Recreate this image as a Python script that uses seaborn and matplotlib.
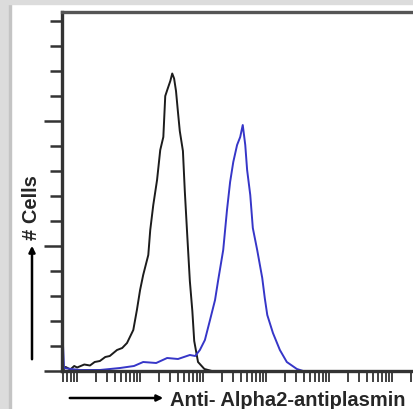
import numpy as np
import pandas as pd
import matplotlib
matplotlib.use("Agg")
import matplotlib.pyplot as plt
import matplotlib.ticker as mticker
import seaborn as sns

# Control (isotype) histogram - fluorescence intensity vs cell count
black_fl = [0.58, 0.66, 0.78, 0.9, 1.0, 1.3, 1.6, 1.9, 2.3, 2.8, 3.3, 4.3, 5.2, 6.2, 7.8, 8.9,
            10.0, 11.2, 13.5, 14.5, 16.2, 18.6, 20.9, 23.4, 25.1, 27.5, 30.2, 32.4, 34.7,
            37.2, 39.8, 42.7, 47.9, 51.3, 56.2, 61.7, 67.6, 72.4, 83.2, 105, 138]
black_cells = [0.0, 1.6, 0.6, 2.0, 1.4, 2.6, 2.2, 3.6, 4.0, 5.6, 6.0, 8.4, 9.2, 11.2, 16.4, 24.4,
               32.4, 38.4, 46.4, 56.4, 66.4, 76.4, 88.4, 93.6, 110, 113, 116, 119, 117,
               112, 104, 96, 88, 72, 54, 36, 24, 12, 3.6, 0.8, 0.0]

# Anti-Alpha2-antiplasmin stained histogram
blue_fl = [0.59, 0.59, 0.62, 0.8, 1.12, 2.3, 4.8, 8.0, 11.2, 18.0, 26.9, 40.0, 61.7, 75.0, 89, 107,
           129, 155, 174, 209, 240, 269, 302, 347, 389, 427, 468, 501, 562, 617, 724,
           871, 955, 1047, 1288, 1660, 2138, 3090, 3890]
blue_cells = [0.0, 13.2, 1.2, 0.8, 0.4, 0.4, 1.2, 2.0, 3.6, 3.2, 5.2, 4.8, 6.4, 6.0, 8.4, 12.4,
              20.4, 28.4, 36.4, 48.4, 64.4, 75.6, 83.6, 90.4, 93.6, 98.4, 90.4, 80.4, 70.4,
              57.2, 48.4, 37.2, 29.2, 22.4, 15.2, 8.4, 3.6, 0.8, 0.0]

x_label = "Anti- Alpha2-antiplasmin"
y_label = "# Cells"

sns.set_style("white")
plt.rcParams['font.family'] = ['Liberation Sans', 'DejaVu Sans']

fig = plt.figure(figsize=(4.14, 4.09), dpi=100)
ax = fig.add_axes([62 / 414, 1 - 371 / 409, 352 / 414, 359 / 409])

# gray frame round the picture
fig.patches.append(plt.Rectangle((0, 0), 9 / 414, 1, transform=fig.transFigure,
                                 color='#dcdcdc', zorder=0))
fig.patches.append(plt.Rectangle((9 / 414, 0), 2 / 414, 1, transform=fig.transFigure,
                                 color='#c4c4c4', zorder=0))
fig.patches.append(plt.Rectangle((0, 1 - 4 / 409), 1, 4 / 409, transform=fig.transFigure,
                                 color='#dcdcdc', zorder=0))

df_black = pd.DataFrame({'fl': black_fl, 'cells': black_cells})
df_blue = pd.DataFrame({'fl': blue_fl, 'cells': blue_cells})

sns.lineplot(data=df_black, x='fl', y='cells', ax=ax, color='#1c1c1c', lw=1.4,
             sort=False, estimator=None)
sns.lineplot(data=df_blue, x='fl', y='cells', ax=ax, color='#3636c8', lw=1.4,
             sort=False, estimator=None)

ax.set_xscale('log')
ax.set_xlim(10 ** -0.24, 10 ** 5.35)
ax.set_ylim(0, 143.6)

ax.xaxis.set_major_locator(mticker.LogLocator(base=10))
ax.xaxis.set_minor_locator(mticker.LogLocator(base=10, subs=np.arange(2, 10)))
ax.xaxis.set_major_formatter(mticker.NullFormatter())
ax.xaxis.set_minor_formatter(mticker.NullFormatter())
ax.yaxis.set_major_locator(mticker.MultipleLocator(50))
ax.yaxis.set_minor_locator(mticker.MultipleLocator(10))
ax.yaxis.set_major_formatter(mticker.NullFormatter())

ax.tick_params(axis='x', which='both', direction='out', length=8, width=1.3,
               color='#333333', bottom=True)
ax.tick_params(axis='y', which='major', direction='out', length=13, width=1.8,
               color='#333333', left=True)
ax.tick_params(axis='y', which='minor', direction='out', length=9, width=1.8,
               color='#333333', left=True)

ax.set_xlabel('')
ax.set_ylabel('')
for side in ['left', 'top', 'bottom']:
    ax.spines[side].set_visible(True)
    ax.spines[side].set_linewidth(2.4)
    ax.spines[side].set_color('#333333')
ax.spines['top'].set_color('#555555')
ax.spines['right'].set_visible(False)

# axis captions with arrows
fig.patches.append(matplotlib.patches.FancyArrowPatch(
    (67 / 414, 1 - 398 / 409), (166 / 414, 1 - 398 / 409), transform=fig.transFigure,
    arrowstyle='-|>', mutation_scale=9, lw=1.8, color='black'))
fig.text(170 / 414, 1 - 406 / 409, x_label, fontsize=14.5, fontweight='bold',
         va='baseline', ha='left')
fig.patches.append(matplotlib.patches.FancyArrowPatch(
    (32 / 414, 1 - 362 / 409), (32 / 414, 1 - 243 / 409), transform=fig.transFigure,
    arrowstyle='-|>', mutation_scale=9, lw=1.8, color='black'))
fig.text(31.5 / 414, 1 - 208 / 409, y_label, fontsize=14.5, fontweight='bold',
         rotation=90, va='center', ha='center')

fig.savefig('out.png', dpi=100)
